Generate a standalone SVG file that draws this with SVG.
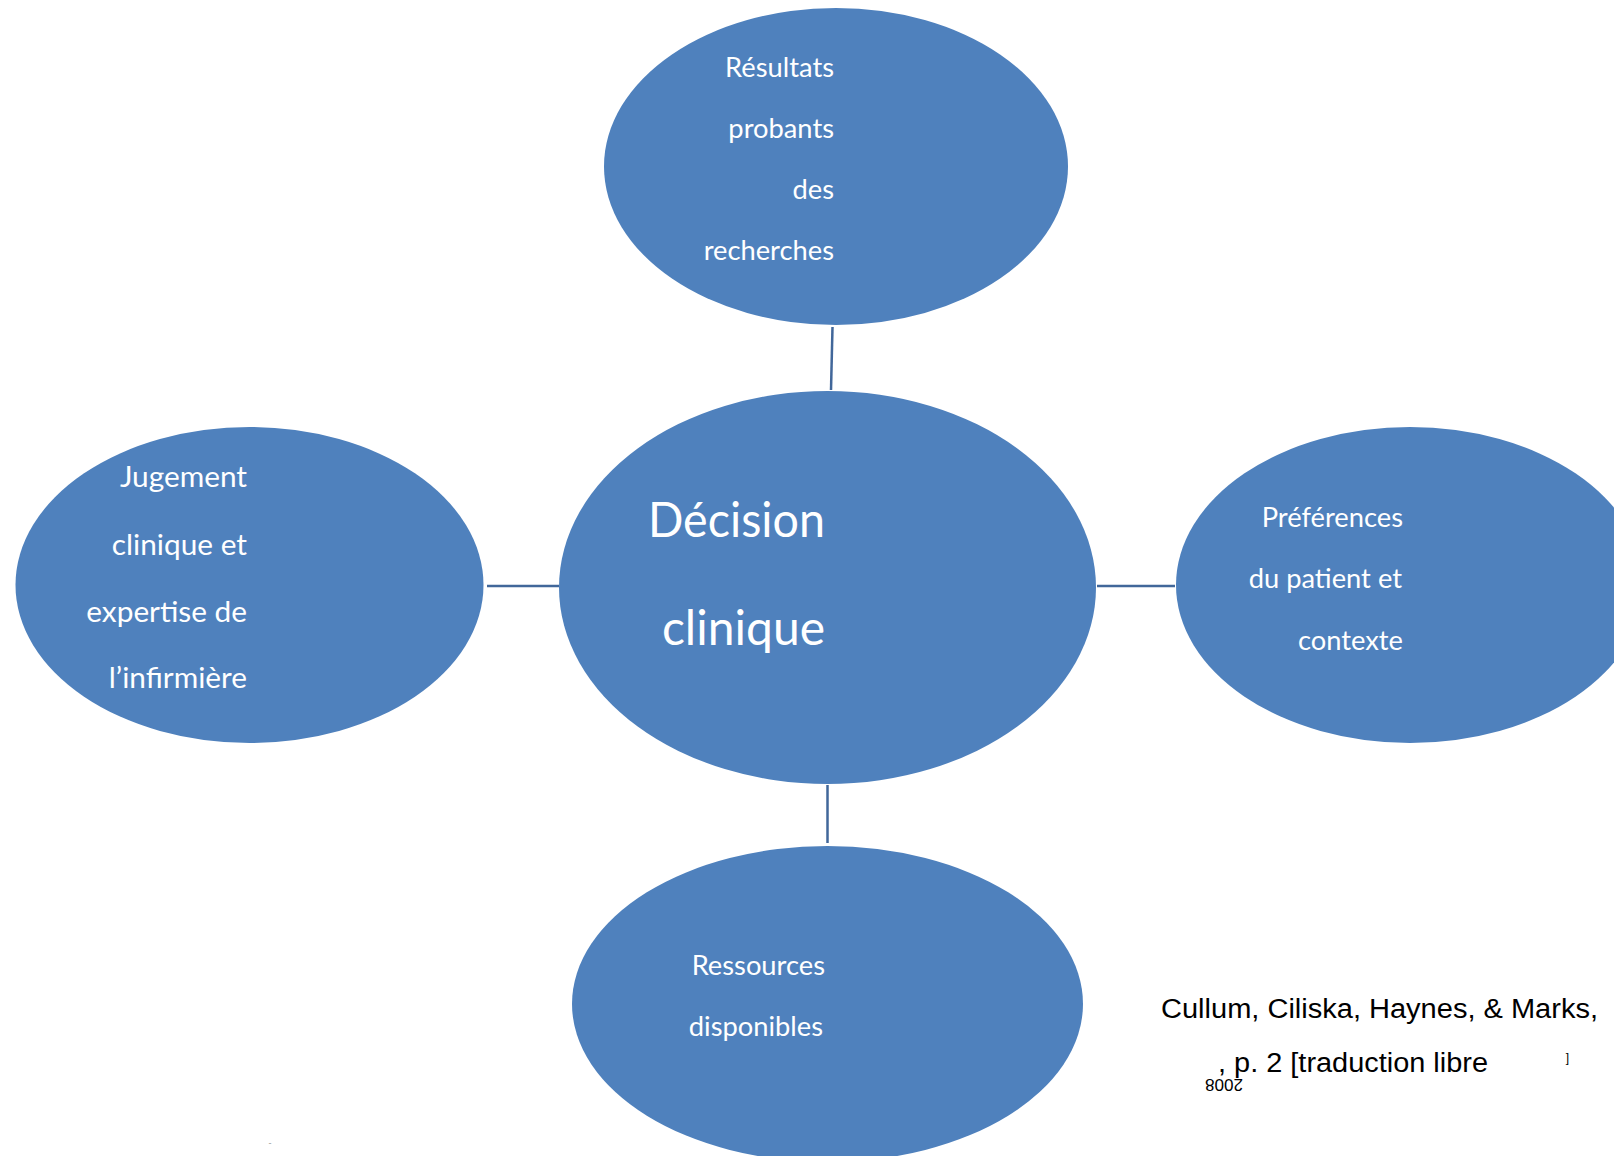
<svg xmlns="http://www.w3.org/2000/svg" width="1614" height="1156" viewBox="0 0 1614 1156">
<style>
.node{fill:#4F81BD;}
.lbl{font-family:Lato,"Open Sans","Liberation Sans",sans-serif;fill:#FFFFFF;text-anchor:end;}
.s{font-size:27.3px;}
.m{font-size:29.8px;}
.l{font-size:48px;}
.conn{stroke:#41679A;stroke-width:2.5;fill:none;}
.cite{font-family:"Liberation Sans",Arial,sans-serif;fill:#000000;}
</style>
<rect width="1614" height="1156" fill="#FFFFFF"/>
<g id="connectors">
<line class="conn" x1="832.5" y1="327" x2="831" y2="390"/>
<line class="conn" x1="487" y1="586" x2="559" y2="586"/>
<line class="conn" x1="1097" y1="586" x2="1175" y2="586"/>
<line class="conn" x1="827.5" y1="785" x2="827.5" y2="843"/>
</g>
<g id="node-top">
<ellipse class="node" cx="836" cy="166.5" rx="232" ry="158.5"/>
<text class="lbl s" x="834" y="77">Résultats</text>
<text class="lbl s" x="834" y="138">probants</text>
<text class="lbl s" x="834" y="199">des</text>
<text class="lbl s" x="834" y="260">recherches</text>
</g>
<g id="node-left">
<ellipse class="node" cx="249.5" cy="585" rx="234" ry="158"/>
<text class="lbl m" x="247" y="487">Jugement</text>
<text class="lbl m" x="247" y="555">clinique et</text>
<text class="lbl m" x="247" y="622">expertise de</text>
<text class="lbl m" x="247" y="688">l’infirmière</text>
</g>
<g id="node-center">
<ellipse class="node" cx="827.5" cy="587.5" rx="268.5" ry="196.5"/>
<text class="lbl l" x="825" y="537" textLength="177" lengthAdjust="spacingAndGlyphs">Décision</text>
<text class="lbl l" x="825" y="645">clinique</text>
</g>
<g id="node-right">
<ellipse class="node" cx="1410" cy="585" rx="234" ry="158"/>
<text class="lbl s" x="1403" y="527">Préférences</text>
<text class="lbl s" x="1402" y="588">du patient et</text>
<text class="lbl s" x="1403" y="650">contexte</text>
</g>
<g id="node-bottom">
<ellipse class="node" cx="827.5" cy="1004" rx="255.5" ry="158"/>
<text class="lbl s" x="825" y="975">Ressources</text>
<text class="lbl s" x="823" y="1036">disponibles</text>
</g>
<g id="citation">
<text class="cite" x="1161" y="1018" font-size="27" textLength="437" lengthAdjust="spacingAndGlyphs">Cullum, Ciliska, Haynes, &amp; Marks,</text>
<text class="cite" x="1218" y="1072" font-size="27" textLength="270" lengthAdjust="spacingAndGlyphs">, p. 2 [traduction libre</text>
<text class="cite" x="1569" y="1062" font-size="12" text-anchor="end">]</text>
<text class="cite" x="0" y="0" font-size="17" text-anchor="middle" transform="translate(1224,1079) rotate(180)">2008</text>
<text x="270" y="1146" font-family="Liberation Sans,sans-serif" font-size="9" fill="#999999" text-anchor="middle">-</text>
</g>
</svg>
